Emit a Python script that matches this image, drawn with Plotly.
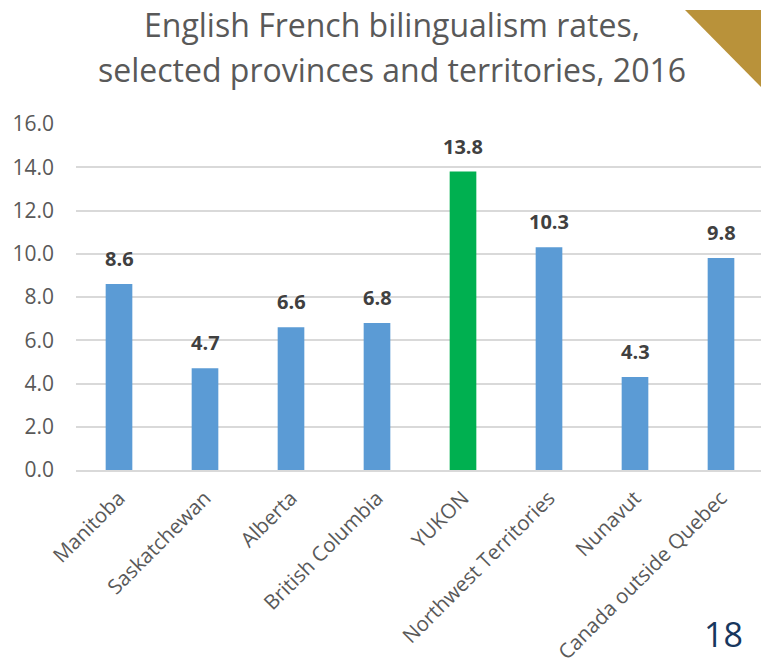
import plotly.graph_objects as go

categories = ["Manitoba", "Saskatchewan", "Alberta", "British Columbia", "YUKON",
              "Northwest Territories", "Nunavut", "Canada outside Quebec"]
rates = [8.6, 4.7, 6.6, 6.8, 13.8, 10.3, 4.3, 9.8]
highlight = "YUKON"
y_ticks = [0, 2, 4, 6, 8, 10, 12, 14, 16]
y_tick_labels = ["0.0", "2.0", "4.0", "6.0", "8.0", "10.0", "12.0", "14.0", "16.0"]
title_lines = ["English French bilingualism rates,",
               "selected provinces and territories, 2016"]
page_number = "18"

# page has an 8px body margin; figure coordinates = page coordinates - 8
OFF = 8
W, H = 761, 655
L, R, T, B = 68, 5, 116, 193
PW, PH = W - L - R, H - T - B

def px(X):
    return (X - OFF - L) / PW

def py(Y):
    return (H - B - (Y - OFF)) / PH

colors = ["#00B050" if c == highlight else "#5B9BD5" for c in categories]

fig = go.Figure()
fig.add_trace(go.Bar(
    x=categories, y=rates, marker=dict(color=colors, line=dict(width=0)),
    hoverinfo="x+y",
))

annotations = []
for c, v in zip(categories, rates):
    annotations.append(dict(
        x=c, y=v, xref="x", yref="y", text=f"{v:.1f}", showarrow=False,
        yanchor="bottom", yshift=10,
        font=dict(family="Open Sans", size=20, color="#404040", weight="bold"),
    ))
for line, yc in zip(title_lines, [25, 70]):
    annotations.append(dict(
        x=px(392), y=py(yc), xref="paper", yref="paper", text=line,
        showarrow=False, xanchor="center", yanchor="middle", borderpad=0,
        font=dict(family="Open Sans", size=32, color="#595959"),
    ))
annotations.append(dict(
    x=px(723), y=py(634), xref="paper", yref="paper", text=page_number,
    showarrow=False, xanchor="center", yanchor="middle",
    font=dict(family="Open Sans", size=34, color="#17375E"),
))

fig.update_layout(
    width=W, height=H,
    margin=dict(l=L, r=R, t=T, b=B, pad=0, autoexpand=False),
    paper_bgcolor="white", plot_bgcolor="white",
    showlegend=False,
    bargap=0.69,
    xaxis=dict(
        tickangle=-45, tickfont=dict(family="Open Sans", size=20.5, color="#595959"),
        showline=True, linecolor="#D9D9D9", linewidth=2, showgrid=False,
        ticks="", ticklabelstandoff=6, fixedrange=True, automargin=False,
    ),
    yaxis=dict(
        range=[0, 16], tickvals=y_ticks, ticktext=y_tick_labels,
        tickfont=dict(family="Open Sans", size=21, color="#595959"),
        showgrid=True, gridcolor="#D9D9D9", gridwidth=1.5, zeroline=False,
        showline=False, ticks="", ticklabelstandoff=21, fixedrange=True,
        automargin=False,
    ),
    shapes=[dict(
        type="path", xref="paper", yref="paper",
        path=f"M {px(685)},{py(10)} L {px(769)},{py(10)} L {px(769)},{py(95)} Z",
        fillcolor="#B9923A", line=dict(width=0), layer="above",
    )],
    annotations=annotations,
)

fig.write_html("out.html")
